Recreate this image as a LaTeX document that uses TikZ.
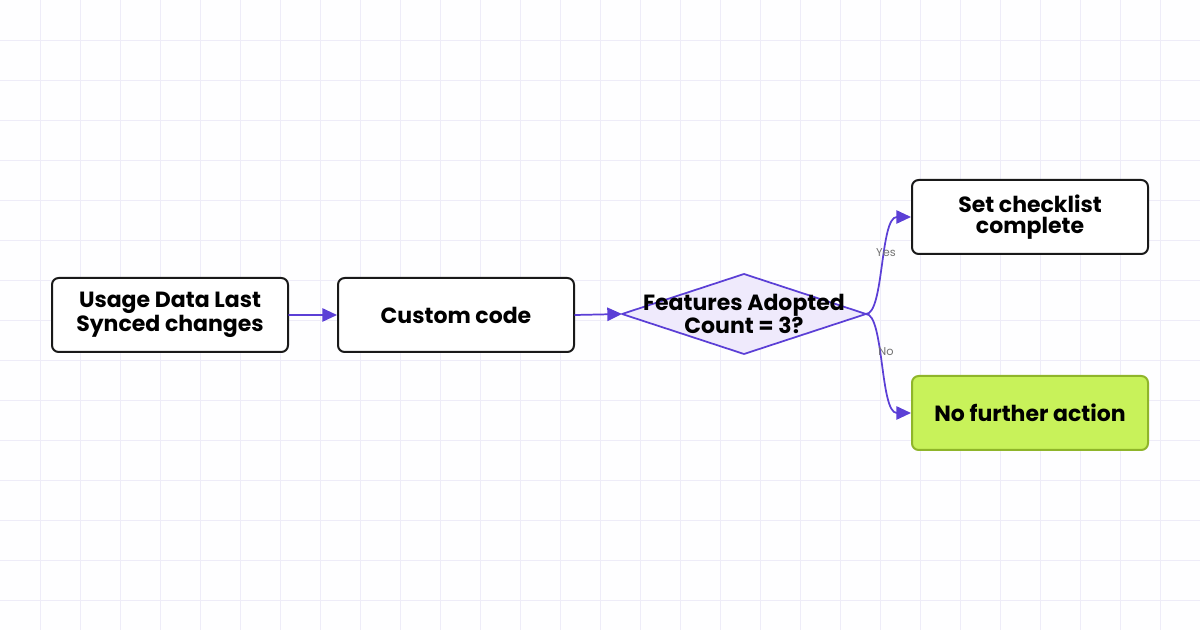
\documentclass[tikz,border=0pt]{standalone}
\usepackage{fontspec}
\setmainfont{Poppins}
\usetikzlibrary{arrows.meta,positioning}
\definecolor{flow}{HTML}{5B3FD6}
\definecolor{gridc}{HTML}{EEECF8}
\definecolor{decfill}{HTML}{EFEAFC}
\definecolor{okfill}{HTML}{C8F25A}
\definecolor{okdraw}{HTML}{8FB52A}
\tikzset{
  step box/.style={draw=black!90,line width=1.5pt,rounded corners=5pt,fill=white,
    minimum width=177pt,minimum height=55.5pt,align=center,inner sep=0pt,
    font=\fontsize{16.5}{15.5}\selectfont\bfseries},
  flow arrow/.style={draw=flow,line width=1.3pt,-{Triangle[length=11pt,width=10pt]}},
  branch label/.style={text=black!55,font=\fontsize{8.5}{9}\selectfont,fill=none}
}
\begin{document}
\begin{tikzpicture}[x=0.75pt,y=-0.75pt,line cap=round,line join=round]
\fill[white!97!gridc] (0,0) rectangle (1200,630);
\useasboundingbox (0,0) rectangle (1200,630);
% background grid
\foreach \gx in {40,80,...,1160} \draw[gridc,line width=0.6pt] (\gx,0) -- (\gx,630);
\foreach \gy in {40,80,...,600} \draw[gridc,line width=0.6pt] (0,\gy) -- (1200,\gy);

\node[step box] (usage) at (170,315) {Usage Data Last\\Synced changes};
\node[step box] (code) at (456,315) {Custom code};
\node[step box] (done) at (1030,217) {Set checklist\\complete};
\node[step box,fill=okfill,draw=okdraw] (none) at (1030,413) {No further action};

% decision diamond
\coordinate (decL) at (622,314);
\coordinate (decT) at (744,274);
\coordinate (decR) at (866,314);
\coordinate (decB) at (744,354);
\draw[flow,line width=1.3pt,fill=decfill] (decL) -- (decT) -- (decR) -- (decB) -- cycle;
\node[align=center,font=\fontsize{16.5}{15.5}\selectfont\bfseries] (check) at (744,314) {Features Adopted\\Count = 3?};

\draw[flow arrow] (usage) -- (code);
\draw[flow arrow] (code.east) -- (decL);
\draw[flow arrow] (decR) .. controls (884,314) and (880,217) .. (done.west);
\draw[flow arrow] (decR) .. controls (884,314) and (880,413) .. (none.west);
\node[branch label] (yes) at (886,253) {Yes};
\node[branch label] (no) at (886,352) {No};
\end{tikzpicture}
\end{document}
